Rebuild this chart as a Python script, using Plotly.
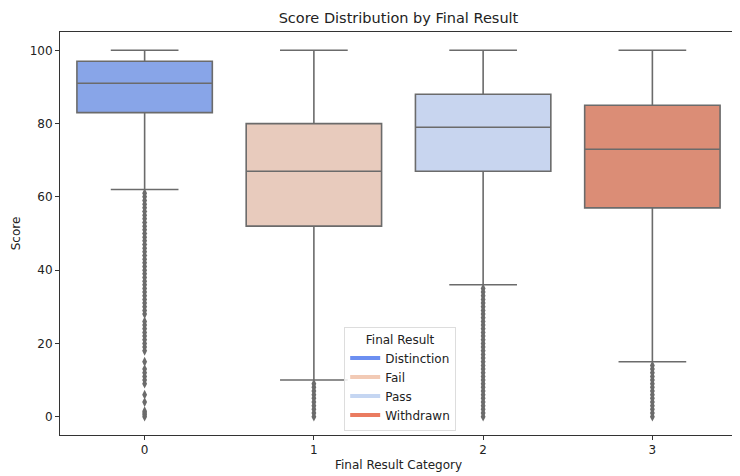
import plotly.graph_objects as go

categories = [0, 1, 2, 3]
labels = ["Distinction", "Fail", "Pass", "Withdrawn"]
q1 = [83, 52, 67, 57]
median = [91, 67, 79, 73]
q3 = [97, 80, 88, 85]
lower_whisker = [62, 10, 36, 15]
upper_whisker = [100, 100, 100, 100]

outliers_0 = [0, 0.5, 1, 1.5, 4, 6, 9, 10, 11, 12, 13, 15, 18, 19, 20, 21, 22, 23, 24,
              25, 26, 28, 29, 30, 31, 32, 33, 34, 35, 36, 37, 38, 39, 40, 41, 42, 43,
              44, 45, 46, 47, 48, 49, 50, 51, 52, 53, 54, 55, 56, 57, 58, 59, 60, 61]
outliers_1 = [0, 1, 2, 3, 4, 5, 6, 7, 8, 9]
outliers_2 = [0, 1, 2, 3, 4, 5, 6, 7, 8, 9, 10, 11, 12, 13, 14, 15, 16, 17, 18, 19, 20,
              21, 22, 23, 24, 25, 26, 27, 28, 29, 30, 31, 32, 33, 34, 35]
outliers_3 = [0, 1, 2, 3, 4, 5, 6, 7, 8, 9, 10, 11, 12, 13, 14]
outliers = [outliers_0, outliers_1, outliers_2, outliers_3]

box_fill = ["#88a5e8", "#e8cbbd", "#c8d5ef", "#db8d76"]
legend_colors = ["#6c8ff1", "#f2cab5", "#c5d6f2", "#ea7b60"]
edge = "#6b6b6b"

fig = go.Figure()
for i, c in enumerate(categories):
    fig.add_trace(go.Box(
        x=[c], q1=[q1[i]], median=[median[i]], q3=[q3[i]],
        lowerfence=[lower_whisker[i]], upperfence=[upper_whisker[i]],
        width=0.8, whiskerwidth=0.5, fillcolor=box_fill[i],
        line=dict(color=edge, width=1.6), boxpoints=False,
        showlegend=False, hoverinfo="skip"))
    fig.add_trace(go.Scatter(
        x=[c] * len(outliers[i]), y=outliers[i], mode="markers",
        marker=dict(symbol="diamond-tall", size=7, color=edge, line=dict(width=0)),
        showlegend=False, hoverinfo="skip"))

for i, lab in enumerate(labels):
    fig.add_trace(go.Scatter(
        x=[None], y=[None], mode="lines", name=lab,
        line=dict(color=legend_colors[i], width=4)))

# page body has an 8px default margin, so figure coordinates are offset by 8px
fig.update_layout(
    width=740, height=476,
    margin=dict(l=52, r=11, t=24, b=49, autoexpand=False),
    paper_bgcolor="white", plot_bgcolor="white",
    font=dict(family="DejaVu Sans", size=12, color="#222"),
    title=dict(text="Score Distribution by Final Result", x=0.5277, xanchor="center",
               y=0.979, yanchor="middle", font=dict(size=14.5, color="#222")),
    xaxis=dict(range=[-0.5, 3.5], tickmode="array", tickvals=categories,
               ticktext=[str(c) for c in categories], showgrid=False, zeroline=False,
               showline=True, linecolor="#333", linewidth=1, mirror=True,
               ticks="outside", ticklen=4, tickcolor="#333", automargin=False,
               tickfont=dict(size=12),
               title=dict(text="Final Result Category", standoff=4, font=dict(size=12))),
    yaxis=dict(range=[-5, 105], tickvals=[0, 20, 40, 60, 80, 100], showgrid=False,
               zeroline=False, showline=True, linecolor="#333", linewidth=1, mirror=True,
               ticks="outside", ticklen=4, tickcolor="#333", automargin=False,
               tickfont=dict(size=12),
               title=dict(text="Score", standoff=6, font=dict(size=12))),
    legend=dict(title=dict(text="Final Result", side="top center", font=dict(size=12)),
                x=0.5025, xanchor="center", y=0.01, yanchor="bottom",
                bgcolor="rgba(255,255,255,0.85)", bordercolor="#dddddd", borderwidth=1,
                font=dict(size=12), itemwidth=30, tracegroupgap=0),
)

fig.write_html("out.html")
